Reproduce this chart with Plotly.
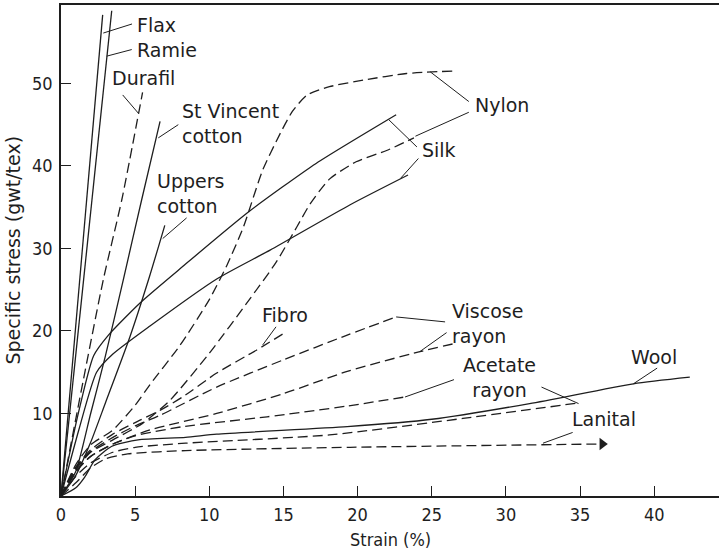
import plotly.graph_objects as go

# ---- data (strain %, specific stress gwt/tex) ----
flax_x = [0, 2.81]
flax_y = [0, 58.3]
ramie_x = [0, 3.42]
ramie_y = [0, 58.8]
durafil_x = [0, 1.5, 2.85, 4.1, 5.5]
durafil_y = [0, 14.0, 26.2, 35.9, 48.9]
stvincent_x = [0, 1, 2, 3, 4.2, 5.44, 6.68]
stvincent_y = [0, 3.0, 10.0, 17.0, 26.2, 35.9, 45.4]
uppers_x = [0, 1, 2, 3, 4.65, 5.9, 7.0]
uppers_y = [0, 2.5, 6.5, 11.3, 19.3, 26.2, 32.8]
silk1_x = [0, 1.1, 2.2, 3.2, 5.33, 8.2, 12.7, 17.2, 22.6]
silk1_y = [0, 9.5, 17.0, 19.5, 23.4, 27.8, 34.5, 40.3, 46.2]
silk2_x = [0, 1.2, 2.4, 3.5, 6.0, 10.5, 14.1, 19.5, 23.4]
silk2_y = [0, 8.0, 15.0, 17.2, 20.6, 26.3, 29.8, 35.3, 38.9]
nylon1_x = [0, 1, 2, 3.5, 5, 6, 8, 10, 11.2, 12.3, 13.6, 14.8, 15.6, 16.6, 18.1, 20.4, 23.3, 26.5]
nylon1_y = [0, 3.8, 6.2, 8.0, 11.0, 13.5, 18.2, 23.8, 28.0, 32.6, 39.5, 44.0, 46.6, 48.6, 49.6, 50.4, 51.2, 51.5]
nylon2_x = [0, 1, 2, 3.5, 5.5, 7.35, 10, 12.7, 14.5, 15.9, 16.8, 18.1, 19.9, 22, 23.8]
nylon2_y = [0, 3.2, 5.3, 6.8, 8.8, 11.6, 17.3, 23.8, 28.3, 32.6, 35.4, 38.4, 40.5, 41.9, 43.4]
fibro_x = [0, 1, 2, 3.5, 5, 6.7, 8.2, 10.5, 13.2, 15.2]
fibro_y = [0, 3.5, 5.6, 7.5, 8.9, 10.4, 12.0, 14.9, 17.7, 19.9]
viscose1_x = [0, 1, 2, 3.5, 5, 6.7, 10.5, 15, 19.3, 22.6]
viscose1_y = [0, 3.4, 5.4, 7.1, 8.5, 9.8, 13.2, 16.5, 19.5, 21.7]
viscose2_x = [0, 1, 2, 3.5, 6, 10.5, 15, 19.3, 24.2, 26.6]
viscose2_y = [0, 3.0, 4.8, 6.3, 8.0, 10.0, 12.4, 15.1, 17.5, 18.5]
acetate1_x = [0, 1, 2, 3.5, 5, 8.2, 13.9, 19.3, 23.2]
acetate1_y = [0, 2.9, 4.8, 6.3, 7.3, 8.4, 9.6, 10.9, 12.0]
acetate2_x = [0, 1, 2, 3.5, 5, 8.4, 18.1, 27.1, 35]
acetate2_y = [0, 2.4, 4.0, 5.3, 5.9, 6.4, 7.4, 9.4, 11.3]
wool_x = [0, 1, 1.6, 2.3, 3.4, 5.2, 8.4, 10.5, 19.3, 25, 31.6, 38.6, 42.4]
wool_y = [0, 1.0, 2.3, 4.4, 6.0, 6.8, 7.1, 7.5, 8.4, 9.3, 11.2, 13.6, 14.4]
lanital_x = [0, 1, 2, 3, 4.5, 8.4, 19.5, 36.5]
lanital_y = [0, 1.6, 3.4, 4.5, 5.1, 5.5, 5.9, 6.3]

# curve: (x, y, dashed)
curves = [
    (flax_x, flax_y, False), (ramie_x, ramie_y, False),
    (durafil_x, durafil_y, True), (stvincent_x, stvincent_y, False),
    (uppers_x, uppers_y, False), (silk1_x, silk1_y, False),
    (silk2_x, silk2_y, False), (nylon1_x, nylon1_y, True),
    (nylon2_x, nylon2_y, True), (fibro_x, fibro_y, True),
    (viscose1_x, viscose1_y, True), (viscose2_x, viscose2_y, True),
    (acetate1_x, acetate1_y, True), (acetate2_x, acetate2_y, True),
    (wool_x, wool_y, False), (lanital_x, lanital_y, True),
]

# labels: text, x, y, anchor
label_text = ["Flax", "Ramie", "Durafil", "St Vincent<br>cotton", "Uppers<br>cotton",
              "Nylon", "Silk", "Fibro", "Viscose<br>rayon", "Acetate<br>rayon",
              "Wool", "Lanital"]
label_x = [5.0, 5.0, 3.3, 8.0, 6.35, 27.8, 24.2, 13.4, 26.2, 29.6, 38.3, 34.3]
label_y = [57.1, 54.1, 50.6, 45.2, 36.7, 47.4, 41.9, 21.9, 20.9, 14.4, 16.9, 9.3]
label_anchor = ["left", "left", "left", "left", "left", "left", "left", "left",
                "left", "center", "left", "left"]

# leader lines: (x0, y0, x1, y1)
leaders = [
    (2.85, 56.1, 4.79, 57.2), (3.08, 53.3, 4.77, 54.1), (4.16, 48.6, 5.21, 46.4),
    (7.91, 45.0, 6.56, 43.4), (8.47, 33.7, 6.86, 31.2),
    (24.9, 51.4, 27.5, 47.8), (27.5, 46.5, 23.9, 43.6),
    (22.1, 45.6, 24.0, 42.3), (24.1, 40.9, 22.9, 38.5),
    (14.5, 20.5, 13.6, 18.3),
    (25.9, 21.1, 22.6, 21.7), (26.0, 19.8, 24.2, 17.5),
    (26.5, 14.1, 23.2, 12.0), (32.4, 13.2, 34.9, 11.2),
    (40.2, 15.5, 38.6, 13.6), (34.5, 7.7, 32.5, 6.4),
]

x_ticks = [0, 5, 10, 15, 20, 25, 30, 35, 40]
y_ticks = [10, 20, 30, 40, 50]

INK = "#1e1e1e"
LABEL_FONT = dict(family="DejaVu Sans, Open Sans, sans-serif", size=19, color=INK)
TICK_FONT = dict(family="DejaVu Sans Condensed, Liberation Sans Narrow, Roboto, sans-serif", size=18, color=INK)

fig = go.Figure()
for cx, cy, dashed in curves:
    fig.add_trace(go.Scatter(
        x=cx, y=cy, mode="lines",
        line=dict(color=INK, width=1.3, dash="10px,5px" if dashed else "solid",
                  shape="spline", smoothing=0.6),
        hoverinfo="skip", showlegend=False))

# arrow head at the end of Lanital
fig.add_trace(go.Scatter(
    x=[lanital_x[-1]], y=[lanital_y[-1]], mode="markers",
    marker=dict(symbol="triangle-right", size=11, color=INK),
    hoverinfo="skip", showlegend=False))

lx, ly = [], []
for x0, y0, x1, y1 in leaders:
    lx += [x0, x1, None]
    ly += [y0, y1, None]
fig.add_trace(go.Scatter(x=lx, y=ly, mode="lines",
                         line=dict(color=INK, width=1.0),
                         hoverinfo="skip", showlegend=False))

for t, x, y, a in zip(label_text, label_x, label_y, label_anchor):
    fig.add_annotation(x=x, y=y, text=t, showarrow=False, xanchor=a,
                       yanchor="middle", align=a, font=LABEL_FONT)

fig.add_annotation(xref="paper", yref="paper", x=0, y=0.5, xshift=-49,
                   xanchor="center", yanchor="middle",
                   text="Specific stress (gwt/tex)", textangle=-90,
                   showarrow=False, font=LABEL_FONT)
fig.add_annotation(xref="paper", yref="paper", x=0.5, y=0, yshift=-43,
                   xanchor="center", yanchor="middle",
                   text="Strain (%)", showarrow=False, font=TICK_FONT)

fig.update_layout(
    width=720, height=549,
    margin=dict(l=61, r=1, t=5, b=53),
    paper_bgcolor="white", plot_bgcolor="white",
    xaxis=dict(range=[0, 44.37], tickvals=x_ticks, ticks="inside", ticklen=10,
               tickwidth=1.2, tickcolor=INK, showline=True, linecolor=INK,
               linewidth=1.5, mirror=True, showgrid=False, zeroline=False,
               tickfont=TICK_FONT, ticklabelstandoff=2),
    yaxis=dict(range=[0, 59.5], tickvals=y_ticks, ticks="inside", ticklen=10,
               tickwidth=1.2, tickcolor=INK, showline=True, linecolor=INK,
               linewidth=1.5, showgrid=False, zeroline=False,
               tickfont=TICK_FONT, ticklabelstandoff=3),
)

fig.write_html("out.html", config={"displayModeBar": False},
               post_script="document.body.style.margin='0';document.body.style.overflow='hidden';")
